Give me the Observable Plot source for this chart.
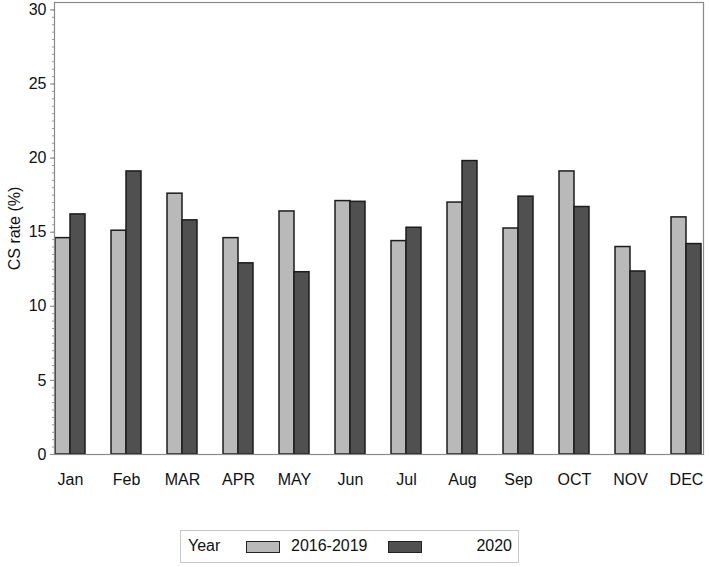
<!DOCTYPE html>
<html>
<head>
<meta charset="utf-8">
<script src="https://cdn.jsdelivr.net/npm/d3@7"></script>
<script src="https://cdn.jsdelivr.net/npm/@observablehq/plot@0.6"></script>
<style>
  html, body { margin: 0; padding: 0; background: #fff; }
  #wrap { position: relative; width: 709px; height: 567px; font-family: "Liberation Sans", Arial, sans-serif; color: #111; }
  #legend { position: absolute; left: 180px; top: 530px; width: 339px; height: 33px; border: 1px solid #c8c8c8; box-sizing: border-box; font-size: 16px; }
  #legend span { position: absolute; top: 6px; }
  #legend .sw { position: absolute; top: 10px; width: 34px; height: 12px; border: 1.5px solid #222; box-sizing: border-box; }
</style>
</head>
<body>
<div id="wrap">
  <div id="chart"></div>
  <div id="legend"></div>
</div>
<script>
const months = ["Jan","Feb","MAR","APR","MAY","Jun","Jul","Aug","Sep","OCT","NOV","DEC"];
const seriesNames = ["2016-2019","2020"];
const base = [14.6,15.1,17.6,14.6,16.4,17.1,14.4,17.0,15.25,19.1,14.0,16.0];
const y2020 = [16.2,19.1,15.8,12.9,12.3,17.05,15.3,19.8,17.4,16.7,12.35,14.2];
const yTicks = [0,5,10,15,20,25,30];
const yMinor = d3.range(0, 30.5, 0.5);
const colors = ["#b9b9b9","#505050"];

const rowsBase = months.map((m,i)=>({month:m, series:seriesNames[0], value:base[i]}));
const rows2020 = months.map((m,i)=>({month:m, series:seriesNames[1], value:y2020[i]}));

const plot = Plot.plot({
  width: 709,
  height: 510,
  marginLeft: 54,
  marginRight: 6,
  marginTop: 2,
  marginBottom: 56,
  style: {fontFamily: "'Liberation Sans', Arial, sans-serif", fontSize: "16px", color: "#111", background: "#fff"},
  x: {domain: months, paddingInner: 0.464, paddingOuter: 0, label: null},
  y: {domain: [0, 30.5], label: null},
  marks: [
    Plot.barY(rowsBase, {x:"month", y:"value", fill: colors[0], stroke:"#1c1c1c", strokeWidth:1.5, insetRight: 15}),
    Plot.barY(rows2020, {x:"month", y:"value", fill: colors[1], stroke:"#1c1c1c", strokeWidth:1.5, insetLeft: 15}),
    Plot.frame({stroke:"#8a8a8a", strokeWidth:1.2}),
    Plot.axisY({ticks: yMinor, tickSize: 2, tickFormat: () => "", stroke:"#9a9a9a", label: null}),
    Plot.axisY({ticks: yTicks, tickSize: 4, tickPadding: 4, stroke:"#8a8a8a", fill:"#111", fontSize: 16, label: "CS rate (%)", labelAnchor: "center", labelArrow: "none", labelOffset: 46}),
    Plot.axisX({tickSize: 0, tickPadding: 19, fill:"#111", fontSize: 16, label: null})
  ]
});
document.getElementById("chart").appendChild(plot);

const legend = document.getElementById("legend");
legend.innerHTML = `
  <span style="left:7px">Year</span>
  <div class="sw" style="left:65px;background:${colors[0]}"></div>
  <span style="left:110px">${seriesNames[0]}</span>
  <div class="sw" style="left:207px;background:${colors[1]}"></div>
  <span style="right:6px">${seriesNames[1]}</span>`;
</script>
</body>
</html>
